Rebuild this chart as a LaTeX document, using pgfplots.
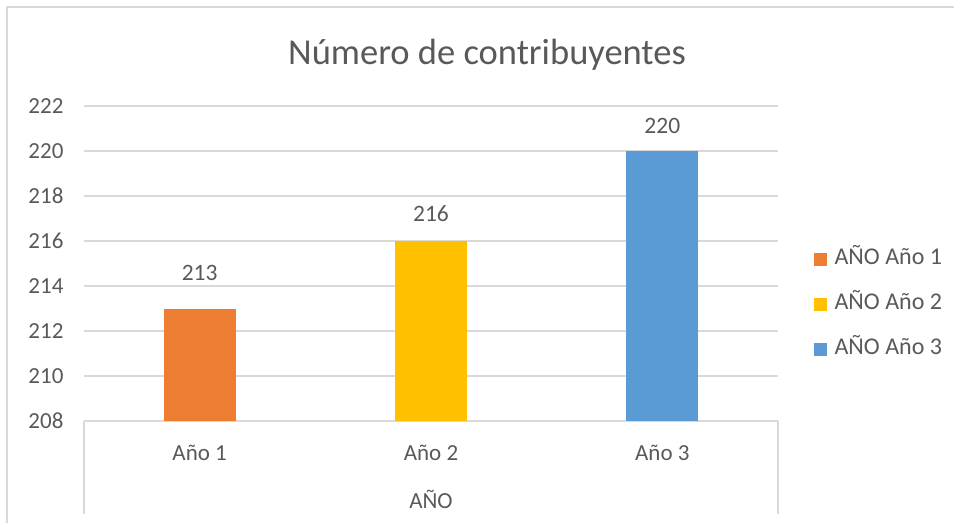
\documentclass[border=0pt]{standalone}
\usepackage{fontspec}
\setmainfont{Carlito}
\usepackage{pgfplots}
\pgfplotsset{compat=1.18}
\definecolor{txt}{HTML}{595959}
\definecolor{grd}{HTML}{D9D9D9}
\definecolor{c1}{HTML}{ED7D31}
\definecolor{c2}{HTML}{FFC000}
\definecolor{c3}{HTML}{5B9BD5}
\pgfplotsset{sqleg/.style={legend image code/.code={\fill[##1,draw=none] (0pt,-6.5pt) rectangle (13pt,6.5pt); \path (21pt,0pt);}}}
\begin{document}
\begin{tikzpicture}
\path[use as bounding box] (0pt,0pt) rectangle (954pt,-523pt);
\draw[grd, line width=1.5pt] (7pt,-523pt) -- (7pt,-7pt) -- (954pt,-7pt);
\node[anchor=base, text=txt, font=\fontsize{36.5}{44}\selectfont, inner sep=0pt] at (487pt,-64pt) {Número de contribuyentes};
\begin{axis}[
  at={(84pt,-421pt)}, anchor=south west,
  scale only axis, width=694pt, height=315pt,
  ymin=208, ymax=222, ytick={208,210,...,222},
  xmin=-0.5, xmax=2.5, xtick={0,1,2}, xticklabels={Año 1, Año 2, Año 3},
  ymajorgrids, grid style={grd, line width=1.5pt},
  axis line style={draw=none},
  major tick length=0pt,
  ticklabel style={font=\fontsize{23}{28}\selectfont, text=txt},
  /pgf/number format/assume math mode=true,
  yticklabel style={xshift=-17pt},
  xticklabel style={anchor=base, yshift=-39pt},
  ybar, bar width=72pt, bar shift=0pt,
  nodes near coords,
  every node near coord/.append style={font=\fontsize{23.5}{28}\selectfont, text=txt, anchor=base, inner sep=0pt},
  legend style={draw=none, fill=none, at={(1.051,0.371)}, anchor=west, font=\fontsize{24}{29}\selectfont, text=txt, inner sep=0pt, row sep=24pt,
     nodes={text height=16pt, text depth=5pt, inner sep=0pt}},
  legend cell align=left,
  clip=false,
]
\addplot[fill=c1, draw=none, sqleg, every node near coord/.append style={yshift=28pt}] coordinates {(0,213)};
\addplot[fill=c2, draw=none, sqleg, every node near coord/.append style={yshift=20pt}] coordinates {(1,216)};
\addplot[fill=c3, draw=none, sqleg, every node near coord/.append style={yshift=18pt}] coordinates {(2,220)};
\legend{AÑO Año 1, AÑO Año 2, AÑO Año 3}
\draw[grd, line width=1.5pt] (rel axis cs:0,0) -- ++(0pt,-93pt);
\draw[grd, line width=1.5pt] (rel axis cs:1,0) -- ++(0pt,-93pt);
\node[anchor=base, text=txt, font=\fontsize{23}{28}\selectfont, inner sep=0pt, yshift=-87pt] at (rel axis cs:0.5,0) {AÑO};
\end{axis}
\end{tikzpicture}
\end{document}
